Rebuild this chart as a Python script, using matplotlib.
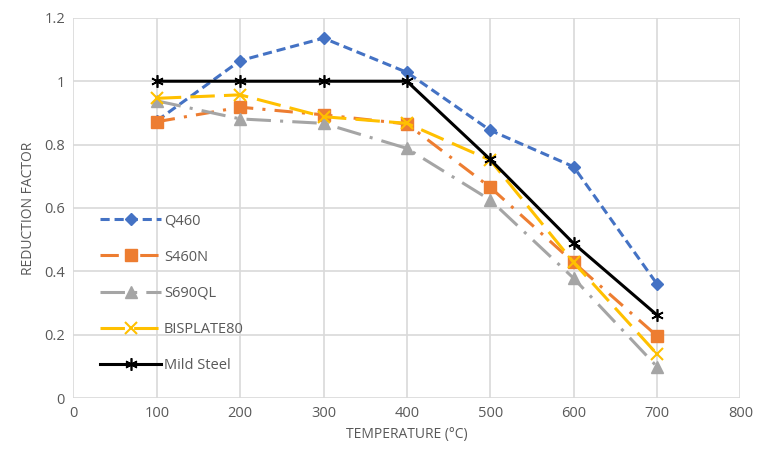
import matplotlib
matplotlib.use("Agg")
import matplotlib.pyplot as plt

plt.rcParams["font.family"] = ["Open Sans", "DejaVu Sans"]

temperature = [100, 200, 300, 400, 500, 600, 700]
q460 = [0.875, 1.065, 1.136, 1.028, 0.845, 0.73, 0.36]
s460n = [0.872, 0.918, 0.894, 0.865, 0.665, 0.428, 0.196]
s690ql = [0.938, 0.881, 0.867, 0.788, 0.625, 0.378, 0.099]
bisplate80 = [0.946, 0.957, 0.888, 0.867, 0.751, 0.428, 0.139]
mild_steel = [1.0, 1.0, 1.0, 1.0, 0.753, 0.488, 0.262]

x_ticks = [0, 100, 200, 300, 400, 500, 600, 700, 800]
y_ticks = [0, 0.2, 0.4, 0.6, 0.8, 1.0, 1.2]
y_tick_labels = ["0", "0.2", "0.4", "0.6", "0.8", "1", "1.2"]

text_grey = "#595959"

fig = plt.figure(figsize=(7.57, 4.58), dpi=100)
ax = fig.add_axes([0.097, 0.131, 0.881, 0.83])

ax.plot(temperature, q460, color="#4472C4", linewidth=2.2, linestyle=(0, (3, 1.6)),
        marker="D", markersize=6, label="Q460")
ax.plot(temperature, s460n, color="#ED7D31", linewidth=2.2, linestyle=(0, (6, 3, 1, 3)),
        marker="s", markersize=9, label="S460N")
ax.plot(temperature, s690ql, color="#A5A5A5", linewidth=2.2, linestyle=(0, (8, 3, 1, 3)),
        marker="^", markersize=8, label="S690QL")
ax.plot(temperature, bisplate80, color="#FFC000", linewidth=2.2, linestyle=(0, (8, 3)),
        marker="x", markersize=8, markeredgewidth=1.5, label="BISPLATE80")
ax.plot(temperature, mild_steel, color="black", linewidth=2.2, linestyle="-",
        marker=(6, 2, 0), markersize=9, markeredgewidth=1.2, label="Mild Steel")

ax.set_xlim(0, 800)
ax.set_ylim(0, 1.2)
ax.set_xticks(x_ticks)
ax.set_yticks(y_ticks)
ax.set_yticklabels(y_tick_labels)
ax.grid(True, color="#D9D9D9", linewidth=1.2)
ax.set_axisbelow(True)
for spine in ax.spines.values():
    spine.set_visible(False)
ax.tick_params(length=0, colors=text_grey, labelsize=10.5, pad=6)

ax.set_xlabel("TEMPERATURE (°C)", color=text_grey, fontsize=10, labelpad=4)
ax.set_ylabel("REDUCTION FACTOR", color=text_grey, fontsize=10, labelpad=6)

leg = ax.legend(loc="upper left", bbox_to_anchor=(0.02, 0.52), frameon=False,
                fontsize=10.5, handlelength=4.2, labelspacing=1.45, handletextpad=0.2)
for t in leg.get_texts():
    t.set_color(text_grey)

fig.savefig("out.png", dpi=100)
